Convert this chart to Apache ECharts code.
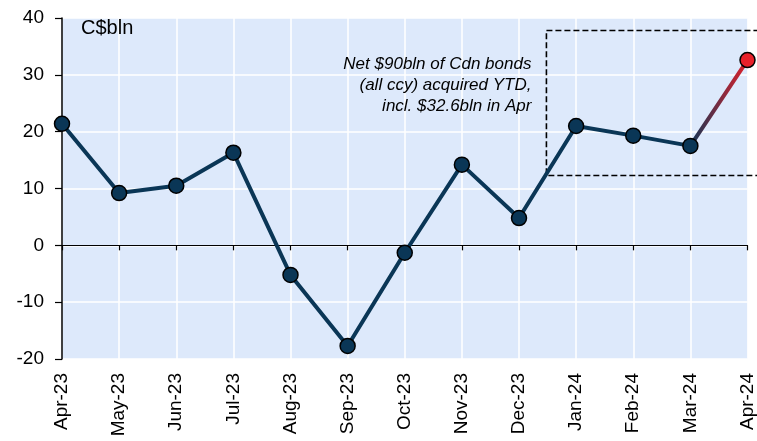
<!DOCTYPE html>
<html>
<head>
<meta charset="utf-8">
<script src="https://cdn.jsdelivr.net/npm/echarts@6/dist/echarts.min.js"></script>
<style>
  html, body { margin: 0; padding: 0; background: #fff; }
  #chart { width: 757px; height: 441px; }
</style>
</head>
<body>
<div id="chart"></div>
<script>
const months = ["Apr-23", "May-23", "Jun-23", "Jul-23", "Aug-23", "Sep-23", "Oct-23",
  "Nov-23", "Dec-23", "Jan-24", "Feb-24", "Mar-24", "Apr-24"]
const flows = [21.4, 9.2, 10.5, 16.3, -5.2, -17.7, -1.3, 14.2, 4.8, 21.0, 19.3, 17.5, 32.6]
const yTicks = [-20, 40, 10] // min, max, step
// dashed box around the 2024 points: [x start (category index), y top, y bottom]
const boxSpan = [8.48, 37.8, 12.3]
const noteLines = ["Net $90bln of Cdn bonds", "(all ccy) acquired YTD,", "incl. $32.6bln in Apr"]

const navy = "#0a3656"
const red = "#e8202a"
const font = "Arial, 'Liberation Sans', sans-serif"

const last = flows.length - 1
// main line: everything up to Mar-24
const mainData = flows.map((v, i) => (i < last ? v : null))
// highlighted last segment (Mar-24 -> Apr-24)
const lastData = flows.map((v, i) => (i >= last - 1 ? v : null))

const chart = echarts.init(document.getElementById("chart"), null, { renderer: "canvas" })

const option = {
  animation: false,
  textStyle: { fontFamily: font },
  grid: {
    left: 62, right: 9, top: 18, bottom: 82,
    show: true, backgroundColor: "#dde9fb", borderWidth: 0
  },
  xAxis: [
    {
      type: "category",
      data: months,
      boundaryGap: false,
      position: "bottom",
      axisLine: { show: false, onZero: false },
      axisTick: { show: false },
      splitLine: { show: true, lineStyle: { color: "#ffffff", width: 1.5 } },
      axisLabel: { rotate: 90, fontSize: 19, color: "#000", margin: 14, interval: 0, fontFamily: font }
    },
    {
      type: "category",
      data: months,
      boundaryGap: false,
      position: "top",
      axisLine: { show: true, onZero: true, lineStyle: { color: "#000", width: 1.2 } },
      axisTick: { show: true, inside: true, length: 5, interval: 0, lineStyle: { color: "#000", width: 1.2 } },
      axisLabel: { show: false },
      splitLine: { show: false }
    }
  ],
  yAxis: {
    type: "value",
    min: yTicks[0],
    max: yTicks[1],
    interval: yTicks[2],
    axisLine: { show: true, lineStyle: { color: "#000", width: 1.5 } },
    axisTick: { show: true, length: 7, lineStyle: { color: "#000", width: 1.2 } },
    splitLine: { show: true, lineStyle: { color: "#ffffff", width: 1.5 } },
    axisLabel: { fontSize: 19, color: "#000", margin: 18, fontFamily: font }
  },
  series: [
    {
      type: "line",
      z: 2,
      symbol: "circle",
      symbolSize: 15,
      showAllSymbol: true,
      connectNulls: false,
      lineStyle: {
        width: 4,
        color: new echarts.graphic.LinearGradient(0, 0, 1, 0, [
          { offset: 0, color: navy },
          { offset: 1, color: red }
        ])
      },
      itemStyle: { color: red, borderColor: "#000", borderWidth: 1.5 },
      data: lastData.map((v, i) => (i === last ? v : { value: v, symbol: "none" }))
    },
    {
      type: "line",
      data: mainData,
      z: 3,
      symbol: "circle",
      symbolSize: 15,
      showAllSymbol: true,
      lineStyle: { width: 4, color: navy },
      itemStyle: { color: navy, borderColor: "#000", borderWidth: 1.5 }
    }
  ]
}

chart.setOption(option)

// annotation box placed from the axes
const leftPx = chart.convertToPixel({ xAxisIndex: 0 }, 0)
const stepPx = chart.convertToPixel({ xAxisIndex: 0 }, 1) - leftPx
const boxX = leftPx + stepPx * boxSpan[0]
const boxTop = chart.convertToPixel({ yAxisIndex: 0 }, boxSpan[1])
const boxBottom = chart.convertToPixel({ yAxisIndex: 0 }, boxSpan[2])

chart.setOption({
  graphic: [
    {
      type: "rect",
      z: 1,
      silent: true,
      shape: { x: boxX, y: boxTop, width: 800, height: boxBottom - boxTop },
      style: { fill: "transparent", stroke: "#000", lineWidth: 1.6, lineDash: [6, 3] }
    },
    {
      type: "text",
      left: 81,
      top: 18,
      style: { text: "C$bln", font: "20px " + font, fill: "#000" }
    },
    {
      type: "text",
      x: boxX - 15,
      y: 54,
      style: {
        text: noteLines.join("\n"),
        font: "italic 17px " + font,
        fill: "#000",
        align: "right",
        lineHeight: 21
      }
    }
  ]
})
</script>
</body>
</html>
